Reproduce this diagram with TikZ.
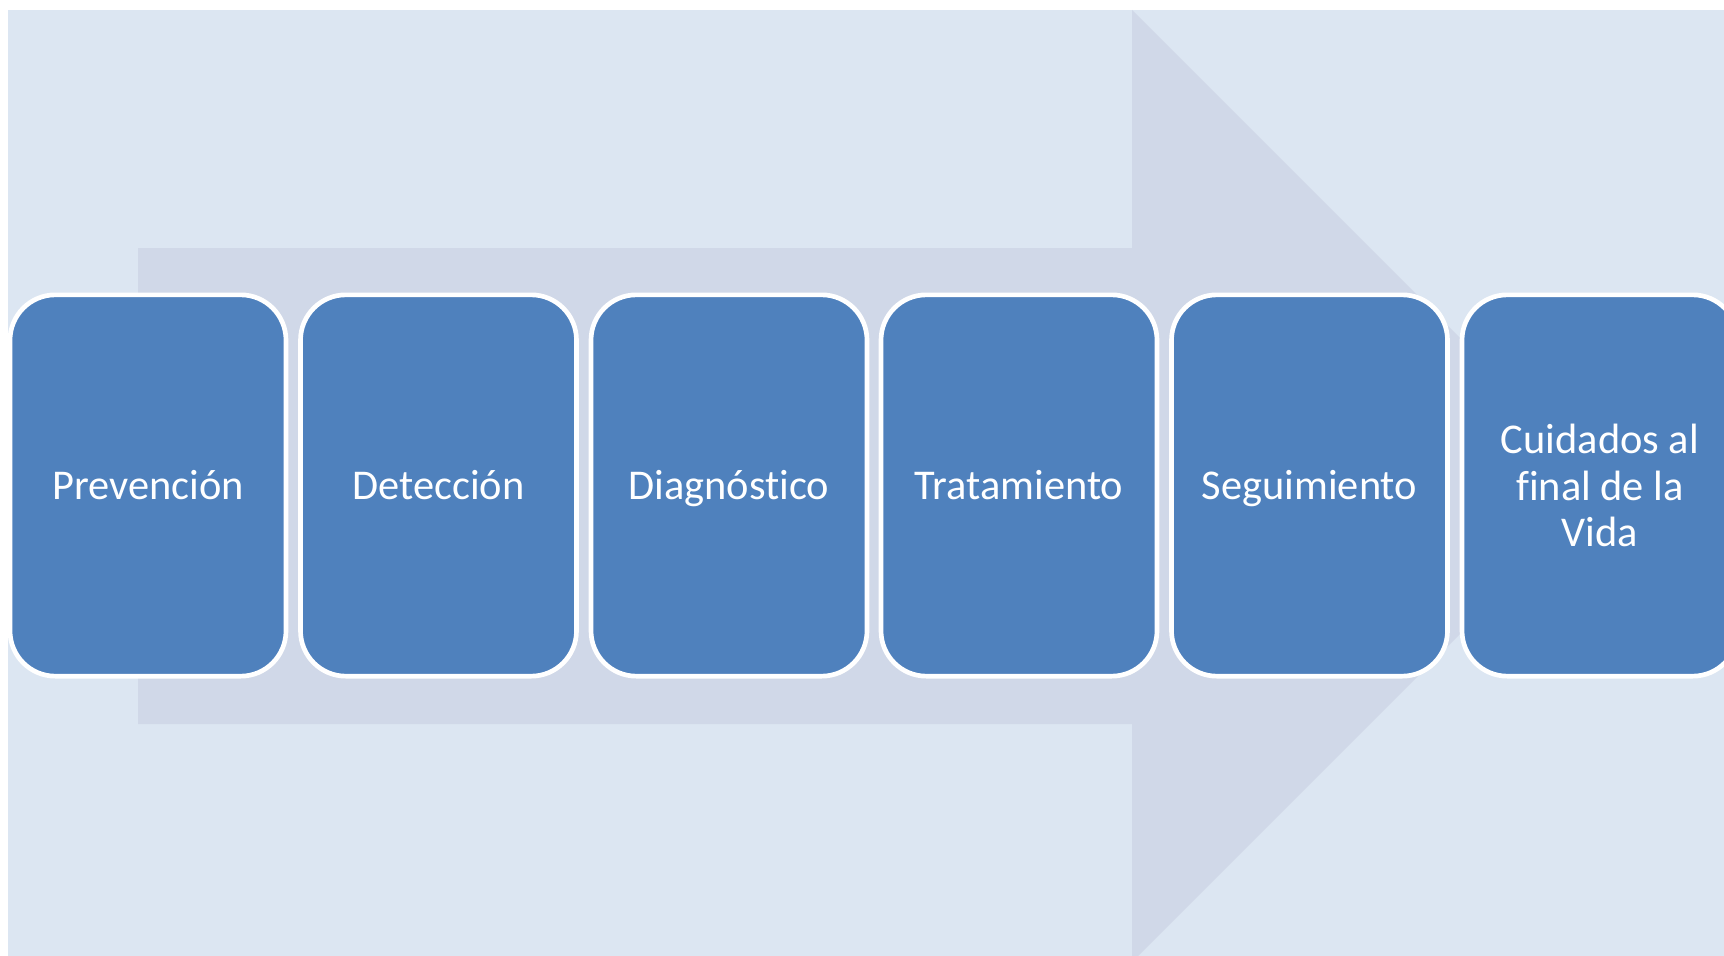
\documentclass[tikz,border=0pt]{standalone}
\usepackage{fontspec}
\setmainfont{Carlito}[Ligatures=NoCommon]
\usepackage{tikz}

\begin{document}
\begin{tikzpicture}[x=0.75pt,y=0.75pt,yscale=-1,xscale=1,
    stage/.style={draw=white, line width=3.5pt, fill={rgb, 255:red, 79; green, 129; blue, 189 }, rounded corners=34pt,
      minimum width=207pt, minimum height=286pt, inner sep=0pt, align=center, text=white,
      font=\fontsize{31.8}{35}\selectfont},
    oneline/.style={stage, text height=24.5pt, text depth=3.9pt}]
  %set diagram to 1724 x 956
  \clip (0,0) rectangle (1724,956);
  \fill [white] (0,0) rectangle (1724,956);

  %Shape: Rectangle [background]
  \fill [color={rgb, 255:red, 220; green, 230; blue, 242 }] (8,10) rectangle (1724,956);
  %Shape: Right Arrow [process arrow]
  \fill [color={rgb, 255:red, 208; green, 216; blue, 232 }] (138,248) -- (1132,248) -- (1132,10) -- (1608,486) -- (1132,962) -- (1132,724) -- (138,724) -- cycle ;

  % Text Node
  \node [oneline] (prev) at (148,485.5) {Prevención};
  % Text Node
  \node [oneline] (detec) at (438.5,485.5) {Detección};
  % Text Node
  \node [oneline] (diag) at (729,485.5) {Diagnóstico};
  % Text Node
  \node [oneline] (trat) at (1019,485.5) {Tratamiento};
  % Text Node
  \node [oneline] (segui) at (1309.5,485.5) {Seguimiento};
  % Text Node
  \node [stage] (cuid) at (1600,485.5) {Cuidados al\\final de la\\Vida};

\end{tikzpicture}
\end{document}
